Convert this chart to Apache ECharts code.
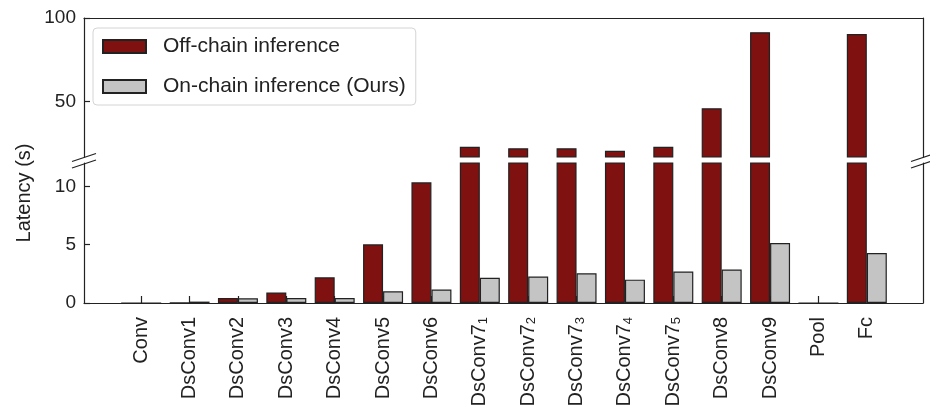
<!DOCTYPE html>
<html>
<head>
<meta charset="utf-8">
<script src="https://cdn.jsdelivr.net/npm/echarts@6/dist/echarts.min.js"></script>
<style>
  html, body { margin: 0; padding: 0; background: #fff; }
  #chart { width: 930px; height: 406px; }
</style>
</head>
<body>
<div id="chart"></div>
<script>
// layers, "_n" gives a subscript
var categories = ['Conv', 'DsConv1', 'DsConv2', 'DsConv3', 'DsConv4', 'DsConv5', 'DsConv6',
    'DsConv7_1', 'DsConv7_2', 'DsConv7_3', 'DsConv7_4', 'DsConv7_5', 'DsConv8', 'DsConv9', 'Pool', 'Fc'];
var offChain = [0, 0.03, 0.42, 0.9, 2.2, 5.03, 10.34, 23.1, 22.2, 22.2, 20.7, 23.1, 46.1, 91.5, 0, 90.4];
var onChain = [0, 0.12, 0.4, 0.42, 0.42, 1.0, 1.15, 2.16, 2.27, 2.55, 2.0, 2.7, 2.87, 5.14, 0, 4.28];
var upperTicks = [50, 100];
var lowerTicks = [0, 5, 10];

var seriesNames = ['Off-chain inference', 'On-chain inference (Ours)'];
var colors = ['#7f1111', '#c4c4c4'];
var ink = '#222';
var font = "'Liberation Sans', Arial, Helvetica, sans-serif";

// frame / grids (px)
var frameL = 84, frameR = 923;
var dataL = 117, dataR = 891;
var topY = 18, upperH = 139, lowerTop = 163, bottomY = 303;

var myChart = echarts.init(document.getElementById('chart'));

function barSeries(name, data, color, idx) {
    return {
        name: name,
        type: 'bar',
        xAxisIndex: idx,
        yAxisIndex: idx,
        data: data,
        barWidth: 20,
        barGap: '0%',
        clip: true,
        itemStyle: { color: color, borderColor: ink, borderWidth: 1.2 }
    };
}

function frameAxis(grid, pos) {
    return {
        gridIndex: grid, type: 'value', position: pos, min: 0, max: 1,
        axisLine: { show: true, onZero: false, lineStyle: { color: ink, width: 1.2 } },
        axisTick: { show: false }, axisLabel: { show: false }, splitLine: { show: false }
    };
}

function dataYAxis(grid, min, max, ticks) {
    return {
        gridIndex: grid, type: 'value', min: min, max: max, offset: dataL - frameL,
        axisLine: { show: true, onZero: false, lineStyle: { color: ink, width: 1.2 } },
        axisTick: { show: true, inside: true, length: 6, customValues: ticks, lineStyle: { color: ink, width: 1.2 } },
        axisLabel: { customValues: ticks, fontSize: 19, color: ink, margin: 8, fontFamily: font },
        splitLine: { show: false }
    };
}

function breakMarks(x) {
    return [157.5, 164].map(function (y) {
        return {
            type: 'line',
            shape: { x1: x - 12, y1: y + 4, x2: x + 12, y2: y - 4 },
            style: { stroke: ink, lineWidth: 1.3 },
            z: 100
        };
    });
}

function gridBox(left, right, top, height) {
    return { left: left, right: 930 - right, top: top, height: height, outerBoundsMode: 'none', containLabel: false };
}

var option = {
    animation: false,
    textStyle: { fontFamily: font },
    grid: [
        gridBox(dataL, dataR, topY, upperH),
        gridBox(dataL, dataR, lowerTop, bottomY - lowerTop),
        gridBox(frameL, frameR, topY, upperH),
        gridBox(frameL, frameR, lowerTop, bottomY - lowerTop)
    ],
    legend: {
        orient: 'vertical',
        left: 93,
        top: 28,
        padding: [8, 10, 8, 9],
        itemWidth: 43,
        itemHeight: 13,
        itemGap: 19,
        icon: 'rect',
        backgroundColor: '#fff',
        borderColor: '#d4d4d4',
        borderWidth: 1,
        borderRadius: 4,
        textStyle: { fontSize: 21, color: ink, lineHeight: 20, padding: [0, 0, 0, 12], fontFamily: font },
        data: seriesNames
    },
    xAxis: [
        { gridIndex: 0, type: 'category', data: categories, show: false },
        {
            gridIndex: 1, type: 'category', data: categories,
            axisLine: { show: false },
            axisTick: { show: true, inside: true, length: 7, alignWithLabel: true, lineStyle: { color: ink, width: 1.2 } },
            axisLabel: {
                rotate: 90, margin: 14, fontSize: 20, color: ink, fontFamily: font, interval: 0,
                formatter: function (v) {
                    var p = v.split('_');
                    return p.length > 1 ? p[0] + '{s|' + p[1] + '}' : v;
                },
                rich: { s: { fontSize: 13, color: ink, fontFamily: font, verticalAlign: 'bottom', padding: [4, 0, 0, 0] } }
            }
        },
        frameAxis(2, 'top'),
        frameAxis(3, 'bottom')
    ],
    yAxis: [
        dataYAxis(0, 17, 100, upperTicks),
        dataYAxis(1, 0, 12, lowerTicks),
        frameAxis(2, 'right'),
        frameAxis(3, 'right')
    ],
    graphic: breakMarks(frameL).concat(breakMarks(frameR)).concat([{
        type: 'text',
        x: 24,
        y: 193,
        rotation: Math.PI / 2,
        style: { text: 'Latency (s)', font: '20px ' + font, fill: ink, align: 'center', verticalAlign: 'middle' }
    }]),
    series: [
        barSeries(seriesNames[0], offChain, colors[0], 0),
        barSeries(seriesNames[1], onChain, colors[1], 0),
        barSeries(seriesNames[0], offChain, colors[0], 1),
        barSeries(seriesNames[1], onChain, colors[1], 1)
    ]
};

myChart.setOption(option);
</script>
</body>
</html>
